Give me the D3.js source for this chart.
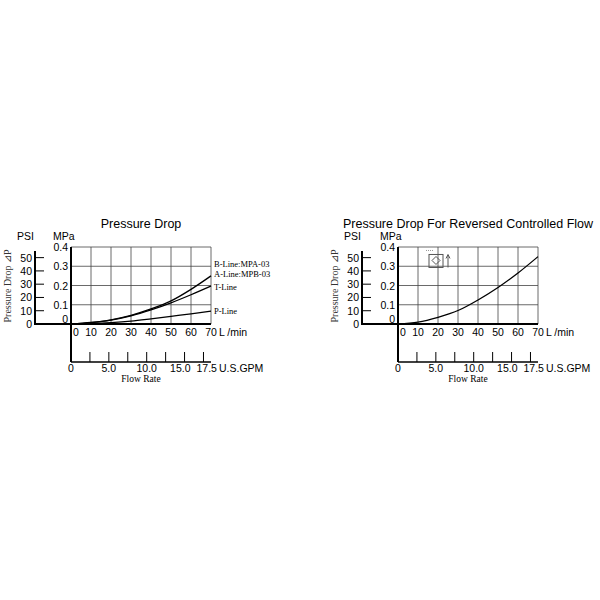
<!DOCTYPE html>
<html><head><meta charset="utf-8">
<script src="https://cdn.jsdelivr.net/npm/d3@7"></script>
<style>body{margin:0;background:#fff}</style></head>
<body><div id="chart"></div>
<script>
var flowTicks = [0, 10, 20, 30, 40, 50, 60, 70];
var mpaTicks = [0, 0.1, 0.2, 0.3, 0.4];
var psiTicks = [0, 10, 20, 30, 40, 50];
var gpmTicks = [0, 2.5, 5, 7.5, 10, 12.5, 15, 17.5];
var gpmLabels = ["0", "5.0", "10.0", "15.0", "17.5"];
var flow = [0, 10, 20, 30, 40, 50, 60, 70];
var bLine = [0, 0.008, 0.022, 0.045, 0.078, 0.12, 0.18, 0.25];
var tLine = [0, 0.007, 0.02, 0.042, 0.073, 0.11, 0.152, 0.197];
var pLine = [0, 0.002, 0.007, 0.015, 0.027, 0.04, 0.053, 0.067];
var revLine = [0, 0.01, 0.035, 0.07, 0.125, 0.19, 0.265, 0.35];

var svg = d3.select("#chart").append("svg").attr("width", 600).attr("height", 600);

function drawPanel(x0, title, series, withSymbol) {
    var g = svg.append("g").attr("font-family", "Liberation Sans, Arial, sans-serif");
    var x = d3.scaleLinear().domain([0, 70]).range([x0, x0 + 140]);
    var y = d3.scaleLinear().domain([0, 0.4]).range([324, 247]);
    var psi = d3.scaleLinear().domain([0, 58.015]).range([324, 247]);
    var gpm = d3.scaleLinear().domain([0, 70 / 3.785]).range([x0, x0 + 140]);
    var pAx = x0 - 36;

    g.append("text").attr("x", x0 + 70).attr("y", 228).attr("text-anchor", "middle")
        .attr("font-size", 12.5).text(title);
    g.append("text").attr("x", pAx - 18).attr("y", 240).attr("font-size", 10.5).text("PSI");
    g.append("text").attr("x", x0 - 18).attr("y", 240).attr("font-size", 10.5).text("MPa");
    g.append("text").attr("transform", "translate(" + (pAx - 24) + ",286) rotate(-90)")
        .attr("text-anchor", "middle").attr("font-family", "Liberation Serif, serif")
        .attr("font-size", 10).attr("fill", "#333").text("Pressure Drop ⊿P");

    // grid
    g.selectAll(".vg").data(flowTicks.slice(1)).enter().append("line")
        .attr("x1", function(d) { return x(d); }).attr("x2", function(d) { return x(d); })
        .attr("y1", y(0.4)).attr("y2", y(0)).attr("stroke", "#444").attr("stroke-width", 0.8);
    g.selectAll(".hg").data(mpaTicks.slice(1)).enter().append("line")
        .attr("x1", x(0)).attr("x2", x(70))
        .attr("y1", function(d) { return y(d); }).attr("y2", function(d) { return y(d); })
        .attr("stroke", "#444").attr("stroke-width", 0.8);
    g.selectAll(".ml").data(mpaTicks).enter().append("text")
        .attr("x", x0 - 3).attr("y", function(d) { return y(d) + (d === 0 ? -1 : 4); })
        .attr("text-anchor", "end").attr("font-size", 10.5)
        .text(function(d) { return d === 0 ? "0" : d; });

    // PSI axis
    g.append("line").attr("x1", pAx).attr("x2", pAx).attr("y1", psi(55)).attr("y2", 325)
        .attr("stroke", "#000").attr("stroke-width", 2);
    g.selectAll(".pt").data(psiTicks).enter().append("line")
        .attr("x1", pAx).attr("x2", pAx + 9)
        .attr("y1", function(d) { return psi(d); }).attr("y2", function(d) { return psi(d); })
        .attr("stroke", "#000");
    g.selectAll(".pl").data(psiTicks).enter().append("text")
        .attr("x", pAx - 3).attr("y", function(d) { return psi(d) + 4; })
        .attr("text-anchor", "end").attr("font-size", 10.5).text(function(d) { return d; });
    g.append("line").attr("x1", pAx).attr("x2", x(70)).attr("y1", y(0)).attr("y2", y(0))
        .attr("stroke", "#000").attr("stroke-width", 2);
    g.append("line").attr("x1", x0).attr("x2", x0).attr("y1", y(0.4)).attr("y2", 362)
        .attr("stroke", "#000").attr("stroke-width", 2);

    g.selectAll(".fl").data(flowTicks).enter().append("text")
        .attr("x", function(d) { return x(d); }).attr("y", 336)
        .attr("text-anchor", function(d) { return d === 0 ? "start" : "middle"; })
        .attr("dx", function(d) { return d === 0 ? 2 : 0; })
        .attr("font-size", 10.5).text(function(d) { return d; });
    g.append("text").attr("x", x(70) + 8).attr("y", 336).attr("font-size", 10.5).text("L /min");

    // GPM axis
    g.append("line").attr("x1", x0).attr("x2", x(70)).attr("y1", 362).attr("y2", 362)
        .attr("stroke", "#000").attr("stroke-width", 1.5);
    g.selectAll(".gt").data(gpmTicks.slice(1)).enter().append("line")
        .attr("x1", function(d) { return gpm(d); }).attr("x2", function(d) { return gpm(d); })
        .attr("y1", 352).attr("y2", 362).attr("stroke", "#000");
    g.selectAll(".gl").data(gpmLabels).enter().append("text")
        .attr("x", function(d) { return gpm(+d); }).attr("y", 372)
        .attr("text-anchor", function(d) { return d === "0" ? "middle" : (d === "15.0" ? "end" : (d === "17.5" ? "start" : "middle")); })
        .attr("dx", function(d) { return d === "15.0" ? 6 : (d === "17.5" ? -7 : 0); })
        .attr("font-size", 10.5).text(function(d) { return d; });
    g.append("text").attr("x", x(70) + 8).attr("y", 372).attr("font-size", 10.5).text("U.S.GPM");
    g.append("text").attr("x", x(35)).attr("y", 382).attr("text-anchor", "middle")
        .attr("font-family", "Liberation Serif, serif").attr("font-size", 9.5).text("Flow Rate");

    var line = d3.line().x(function(d, i) { return x(flow[i]); }).y(function(d) { return y(d); })
        .curve(d3.curveMonotoneX);
    series.forEach(function(s) {
        g.append("path").datum(s.values).attr("d", line).attr("fill", "none")
            .attr("stroke", "#000").attr("stroke-width", 1.3);
        s.labels.forEach(function(lb) {
            g.append("text").attr("x", x(70) + 3).attr("y", lb.y)
                .attr("font-family", "Liberation Serif, serif").attr("font-size", 8.5).text(lb.t);
        });
    });

    if (withSymbol) {
        var sx = x(15.5), sy = y(0.33);
        g.append("rect").attr("x", sx).attr("y", sy - 6).attr("width", 14).attr("height", 13)
            .attr("fill", "none").attr("stroke", "#555");
        g.append("path").attr("d", "M" + (sx + 7) + "," + (sy - 4) + "l4,4l-4,4l-4,-4z")
            .attr("fill", "none").attr("stroke", "#555");
        g.append("line").attr("x1", sx + 19).attr("x2", sx + 19).attr("y1", sy + 7).attr("y2", sy - 5)
            .attr("stroke", "#555");
        g.append("path").attr("d", "M" + (sx + 17) + "," + (sy - 2) + "l2,-4l2,4").attr("fill", "none").attr("stroke", "#555");
        g.append("line").attr("x1", sx - 3).attr("x2", sx + 5).attr("y1", sy - 10).attr("y2", sy - 10)
            .attr("stroke", "#999").attr("stroke-dasharray", "1,1");
    }
}

drawPanel(71, "Pressure Drop", [
    {values: bLine, labels: [{t: "B-Line:MPA-03", y: 267}, {t: "A-Line:MPB-03", y: 277}]},
    {values: tLine, labels: [{t: "T-Line", y: 290}]},
    {values: pLine, labels: [{t: "P-Line", y: 314}]}
], false);
drawPanel(398, "Pressure Drop For Reversed Controlled Flow", [
    {values: revLine, labels: []}
], true);
</script></body></html>
